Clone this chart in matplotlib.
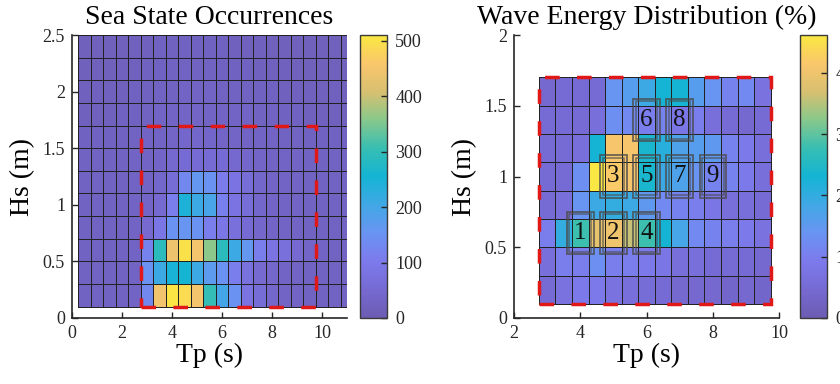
import numpy as np
import matplotlib
matplotlib.use('Agg')
import matplotlib.pyplot as plt
from matplotlib.colors import LinearSegmentedColormap
from matplotlib.patches import Rectangle
from matplotlib.ticker import FormatStrFormatter

plt.rcParams['font.family'] = ['Liberation Serif', 'DejaVu Serif']

# ---- data -------------------------------------------------------------
# sea state occurrences: Tp bin centres 0.5..11 s, Hs bin centres 0.2..2.4 m
tp_occ = [0.5, 1.0, 1.5, 2.0, 2.5, 3.0, 3.5, 4.0, 4.5, 5.0, 5.5,
          6.0, 6.5, 7.0, 7.5, 8.0, 8.5, 9.0, 9.5, 10.0, 10.5, 11.0]
hs_occ = [0.2, 0.4, 0.6, 0.8, 1.0, 1.2, 1.4, 1.6, 1.8, 2.0, 2.2, 2.4]
occ_h02 = [25, 25, 25, 25, 28, 130, 445, 505, 490, 450, 300, 200, 150, 80, 60, 40, 30, 28, 25, 25, 25, 25]
occ_h04 = [25, 25, 25, 25, 30, 150, 210, 250, 255, 210, 170, 150, 110, 75, 50, 40, 30, 28, 25, 25, 25, 25]
occ_h06 = [25, 25, 25, 25, 30, 120, 290, 440, 500, 450, 360, 290, 210, 160, 110, 80, 70, 50, 35, 30, 25, 25]
occ_h08 = [25, 25, 25, 25, 30, 50, 90, 150, 155, 150, 110, 90, 70, 55, 40, 35, 30, 28, 25, 25, 25, 25]
occ_h10 = [25, 25, 25, 25, 28, 35, 50, 110, 245, 210, 195, 115, 80, 60, 40, 35, 30, 28, 25, 25, 25, 25]
occ_h12 = [25, 25, 25, 25, 28, 30, 40, 60, 130, 160, 150, 105, 80, 60, 40, 35, 30, 28, 25, 25, 25, 25]
occ_h14 = [25, 25, 25, 25, 28, 30, 35, 45, 55, 55, 55, 55, 45, 40, 35, 30, 28, 28, 25, 25, 25, 25]
occ_h16 = [22, 22, 22, 22, 25, 28, 30, 35, 40, 40, 38, 35, 32, 30, 28, 28, 25, 25, 22, 22, 22, 22]
occ_h18 = [20, 20, 20, 22, 22, 25, 28, 30, 32, 32, 30, 30, 28, 28, 25, 25, 22, 22, 20, 20, 20, 20]
occ_h20 = [20, 20, 20, 20, 22, 22, 25, 25, 28, 28, 28, 25, 25, 25, 22, 22, 20, 20, 20, 20, 20, 20]
occ_h22 = [18, 18, 18, 20, 20, 22, 22, 25, 25, 25, 25, 22, 22, 22, 20, 20, 20, 18, 18, 18, 18, 18]
occ_h24 = [18, 18, 18, 18, 20, 20, 22, 22, 22, 22, 22, 22, 20, 20, 20, 18, 18, 18, 18, 18, 18, 18]

# wave energy distribution (%): Tp 3.0..9.5 s, Hs 0.2..1.6 m
tp_en = [3.0, 3.5, 4.0, 4.5, 5.0, 5.5, 6.0, 6.5, 7.0, 7.5, 8.0, 8.5, 9.0, 9.5]
hs_en = [0.2, 0.4, 0.6, 0.8, 1.0, 1.2, 1.4, 1.6]
en_h02 = [0.5, 0.7, 0.9, 0.9, 0.7, 0.6, 0.55, 0.5, 0.45, 0.45, 0.4, 0.35, 0.4, 0.35]
en_h04 = [0.6, 1.0, 1.0, 1.3, 1.0, 1.0, 0.9, 0.8, 0.6, 0.6, 0.5, 0.5, 0.5, 0.4]
en_h06 = [1.0, 2.0, 2.8, 3.9, 4.0, 3.6, 2.8, 2.3, 1.8, 1.2, 1.1, 1.0, 0.9, 0.7]
en_h08 = [0.5, 0.6, 1.4, 1.9, 2.0, 1.9, 1.5, 1.2, 1.1, 1.0, 0.8, 0.6, 0.6, 0.5]
en_h10 = [0.5, 0.5, 1.3, 4.6, 4.2, 4.1, 2.4, 1.9, 1.7, 1.4, 1.1, 1.1, 0.9, 0.6]
en_h12 = [0.5, 0.5, 0.6, 2.3, 4.1, 4.1, 2.4, 2.1, 1.7, 1.6, 1.5, 1.1, 0.9, 0.6]
en_h14 = [0.5, 0.5, 0.5, 0.6, 1.3, 1.2, 1.0, 1.1, 0.8, 1.0, 0.6, 0.5, 0.45, 0.5]
en_h16 = [0.45, 0.5, 0.5, 0.5, 1.4, 1.6, 1.9, 2.3, 2.3, 1.6, 1.4, 1.1, 1.2, 0.7]

# numbered sea states
case_ids = ['1', '2', '3', '4', '5', '6', '7', '8', '9']
case_tp = [4, 5, 5, 6, 6, 6, 7, 7, 8]
case_hs = [0.6, 0.6, 1.0, 0.6, 1.0, 1.4, 1.0, 1.4, 1.0]

# ---- style ------------------------------------------------------------
# faded parula-like colours
stops = [(108, 92, 178), (118, 106, 210), (125, 122, 236), (105, 148, 242),
         (65, 168, 230), (20, 180, 212), (55, 190, 178), (135, 200, 140),
         (215, 192, 112), (250, 198, 108), (250, 232, 65)]
cmap = LinearSegmentedColormap.from_list(
    'parula_faded', [tuple(c / 255 for c in s) for s in stops])

W, H = 840, 384
fig = plt.figure(figsize=(W / 100, H / 100), dpi=100)


def frac(x0, y0, x1, y1):
    return [x0 / W, 1 - y1 / H, (x1 - x0) / W, (y1 - y0) / H]


def edges(centres, step):
    c = np.asarray(centres)
    return np.append(c - step / 2, c[-1] + step / 2)


def style_axes(ax):
    for s in ['top', 'right']:
        ax.spines[s].set_visible(False)
    for s in ['left', 'bottom']:
        ax.spines[s].set_color('#262626')
        ax.spines[s].set_linewidth(1.2)
    ax.tick_params(direction='in', length=4, width=1, labelsize=13,
                   colors='#262626', pad=5)
    ax.yaxis.set_major_formatter(FormatStrFormatter('%g'))
    ax.set_xlabel('Tp (s)', fontsize=20, labelpad=1)
    ax.set_ylabel('Hs (m)', fontsize=20, labelpad=5)


def style_cbar(cb):
    cb.outline.set_edgecolor('#3a3a3a')
    cb.outline.set_linewidth(1)
    cb.ax.tick_params(direction='in', length=4, width=1, labelsize=13,
                      colors='#262626', pad=6)


red_dash = dict(fill=False, edgecolor='#e01818', linewidth=2.5,
                linestyle=(0, (4.2, 5.0)), zorder=5)
grid_kw = dict(cmap=cmap, edgecolors='#222222', linewidth=0.7)

# ---- left: occurrences ------------------------------------------------
occ = np.array([occ_h02, occ_h04, occ_h06, occ_h08, occ_h10, occ_h12,
                occ_h14, occ_h16, occ_h18, occ_h20, occ_h22, occ_h24])
ax1 = fig.add_axes(frac(72, 35, 347, 318))
m1 = ax1.pcolormesh(edges(tp_occ, 0.5), edges(hs_occ, 0.2), occ,
                    vmin=0, vmax=510, **grid_kw)
ax1.set_xlim(0, 11)
ax1.set_ylim(0, 2.5)
ax1.set_xticks([0, 2, 4, 6, 8, 10])
ax1.set_yticks([0, 0.5, 1, 1.5, 2, 2.5])
ax1.add_patch(Rectangle((2.75, 0.1), 7.0, 1.6, **red_dash))
ax1.set_title('Sea State Occurrences', fontsize=20, pad=8)
style_axes(ax1)

cax1 = fig.add_axes(frac(360, 35, 387, 318))
cb1 = fig.colorbar(m1, cax=cax1, ticks=[0, 100, 200, 300, 400, 500])
style_cbar(cb1)

# ---- right: energy distribution --------------------------------------
en = np.array([en_h02, en_h04, en_h06, en_h08, en_h10, en_h12, en_h14, en_h16])
ax2 = fig.add_axes(frac(514, 35, 779, 318))
m2 = ax2.pcolormesh(edges(tp_en, 0.5), edges(hs_en, 0.2), en,
                    vmin=0, vmax=4.62, **grid_kw)
ax2.set_xlim(2, 10)
ax2.set_ylim(0, 2)
ax2.set_xticks([2, 4, 6, 8, 10])
ax2.set_yticks([0, 0.5, 1, 1.5, 2])
ax2.add_patch(Rectangle((2.75, 0.1), 7.0, 1.6, **red_dash))
dx, dy = 0.075, 0.018  # inner outline offset of the case boxes
for cid, x, y in zip(case_ids, case_tp, case_hs):
    ax2.add_patch(Rectangle((x - 0.4, y - 0.15), 0.8, 0.3, fill=False,
                            edgecolor='#4a4a4a', linewidth=1.3, alpha=0.8,
                            zorder=4))
    ax2.add_patch(Rectangle((x - 0.4 + dx, y - 0.15 + dy), 0.8 - 2 * dx,
                            0.3 - 2 * dy, fill=False, edgecolor='#4a4a4a',
                            linewidth=1.1, alpha=0.7, zorder=4))
    ax2.text(x, y, cid, ha='center', va='center', fontsize=18,
             color='#111111', zorder=6)
ax2.set_title('Wave Energy Distribution (%)', fontsize=20, pad=8)
style_axes(ax2)

cax2 = fig.add_axes(frac(800, 35, 827, 318))
cb2 = fig.colorbar(m2, cax=cax2, ticks=[0, 1, 2, 3, 4])
style_cbar(cb2)

fig.savefig('out.png', dpi=100)
